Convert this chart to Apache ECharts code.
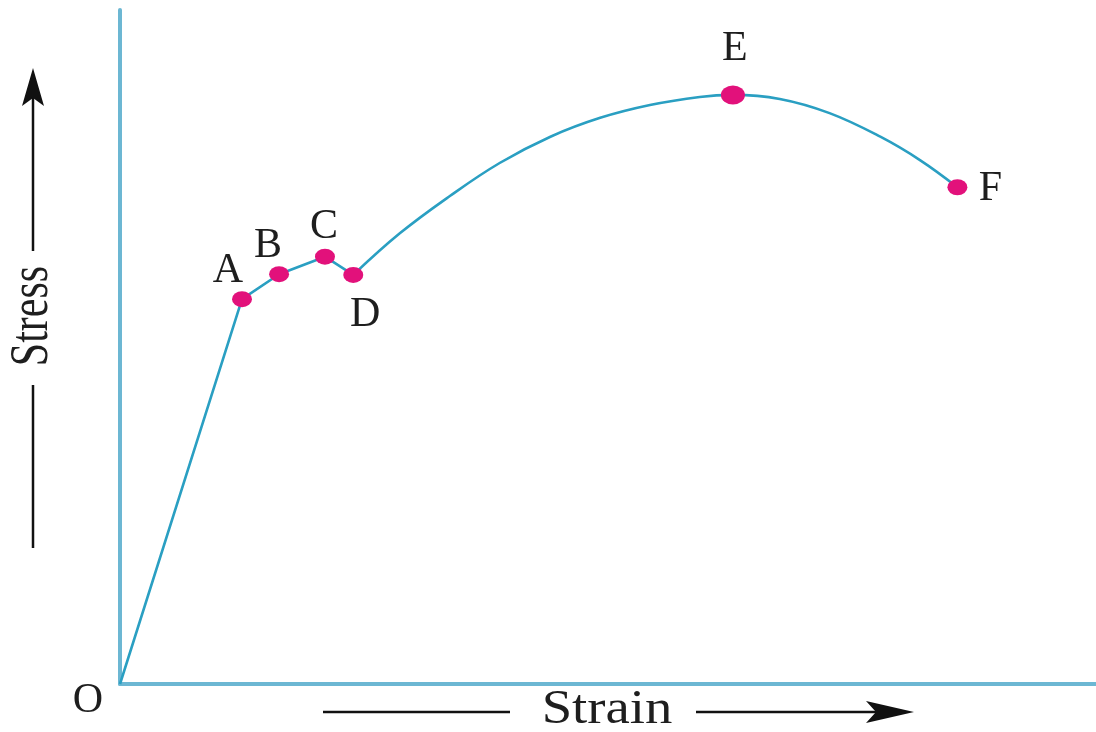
<!DOCTYPE html>
<html>
<head>
<meta charset="utf-8">
<script src="https://cdn.jsdelivr.net/npm/echarts@6/dist/echarts.min.js"></script>
<style>
html,body{margin:0;padding:0;background:#fff;}
#chart{width:1096px;height:732px;}
</style>
</head>
<body>
<div id="chart"></div>
<script>
// ---- data (strain, stress in relative units 0..100) ----
var pointNames   = ['O', 'A', 'B', 'C', 'D', 'E', 'F'];
var pointStrain  = [0, 12.5, 16.3, 21.0, 23.9, 62.8, 85.8];
var pointStress  = [0, 57.1, 60.8, 63.4, 60.7, 87.4, 73.7];

// elastic + yield region (straight segments O-A-B-C-D)
var yieldStrain  = [0, 12.5, 16.3, 21.0, 23.9];
var yieldStress  = [0, 57.1, 60.8, 63.4, 60.7];

// strain hardening and necking (smooth curve D ... E ... F)
var hardenStrain = [23.9, 28.7, 33.8, 38.9, 44.1, 49.2, 54.3, 59.4, 62.8, 67.6, 72.7, 77.9, 82.0, 85.8];
var hardenStress = [60.7, 66.9, 72.4, 77.3, 81.2, 84.0, 85.9, 87.1, 87.4, 86.8, 84.7, 81.2, 77.7, 73.7];

var xAxisTitle = 'Strain';
var yAxisTitle = 'Stress';

// ---- styling ----
var curveColor = '#2a9fc2';
var axisColor  = '#6cb7d3';
var dotColor   = '#e2117b';
var serif = '"Liberation Serif", "Times New Roman", serif';
var labelOffsets = {O: [-32, 17], A: [-14, -28], B: [-11, -28], C: [-1, -30], D: [12, 40], E: [2, -46], F: [33, 2]};

function pairs(xs, ys) { return xs.map(function (x, i) { return [x, ys[i]]; }); }

var pointData = pointNames.map(function (n, i) {
  var big = n === 'E';
  return {
    name: n,
    value: [pointStrain[i], pointStress[i]],
    symbolSize: n === 'O' ? 0 : (big ? [24, 19] : [20, 16]),
    label: { offset: labelOffsets[n] }
  };
});

var chart = echarts.init(document.getElementById('chart'), null, {renderer: 'canvas'});
chart.setOption({
  animation: false,
  backgroundColor: '#ffffff',
  grid: { left: 120, right: 0, top: 10, bottom: 48 },
  xAxis: {
    type: 'value', min: 0, max: 100,
    axisLine: { show: true, onZero: false, lineStyle: { color: axisColor, width: 4 } },
    axisTick: { show: false }, axisLabel: { show: false }, splitLine: { show: false }
  },
  yAxis: {
    type: 'value', min: 0, max: 100,
    axisLine: { show: true, onZero: false, lineStyle: { color: axisColor, width: 4 } },
    axisTick: { show: false }, axisLabel: { show: false }, splitLine: { show: false }
  },
  series: [
    {
      type: 'line', data: pairs(yieldStrain, yieldStress), smooth: false,
      symbol: 'none', lineStyle: { color: curveColor, width: 2.6 }, z: 2
    },
    {
      type: 'line', data: pairs(hardenStrain, hardenStress), smooth: 0.4,
      symbol: 'none', lineStyle: { color: curveColor, width: 2.6 }, z: 2
    },
    {
      type: 'scatter', data: pointData, symbol: 'circle',
      itemStyle: { color: dotColor, opacity: 1 }, z: 3,
      label: {
        show: true, position: 'inside', formatter: '{b}',
        fontFamily: serif, fontSize: 42, color: '#1e1e1e'
      }
    }
  ],
  graphic: [
    // Strain arrow
    { type: 'line', shape: { x1: 323, y1: 712, x2: 510, y2: 712 }, style: { stroke: '#111', lineWidth: 2.5 } },
    { type: 'line', shape: { x1: 696, y1: 712, x2: 880, y2: 712 }, style: { stroke: '#111', lineWidth: 2.5 } },
    { type: 'polygon', shape: { points: [[914, 712], [866, 701], [876, 712], [866, 723]] }, style: { fill: '#111' } },
    { type: 'text', x: 607, y: 710, scaleX: 1.14, style: { text: xAxisTitle, font: '48px ' + serif, fill: '#1e1e1e', textAlign: 'center', textVerticalAlign: 'middle' } },
    // Stress arrow
    { type: 'line', shape: { x1: 33, y1: 548, x2: 33, y2: 385 }, style: { stroke: '#111', lineWidth: 2.5 } },
    { type: 'line', shape: { x1: 33, y1: 251, x2: 33, y2: 98 }, style: { stroke: '#111', lineWidth: 2.5 } },
    { type: 'polygon', shape: { points: [[33, 68], [22, 106], [33, 98], [44, 106]] }, style: { fill: '#111' } },
    { type: 'text', x: 33, y: 316, rotation: Math.PI / 2, scaleY: 1.3, style: { text: yAxisTitle, font: '42px ' + serif, fill: '#1e1e1e', textAlign: 'center', textVerticalAlign: 'middle' } }
  ]
});
</script>
</body>
</html>
